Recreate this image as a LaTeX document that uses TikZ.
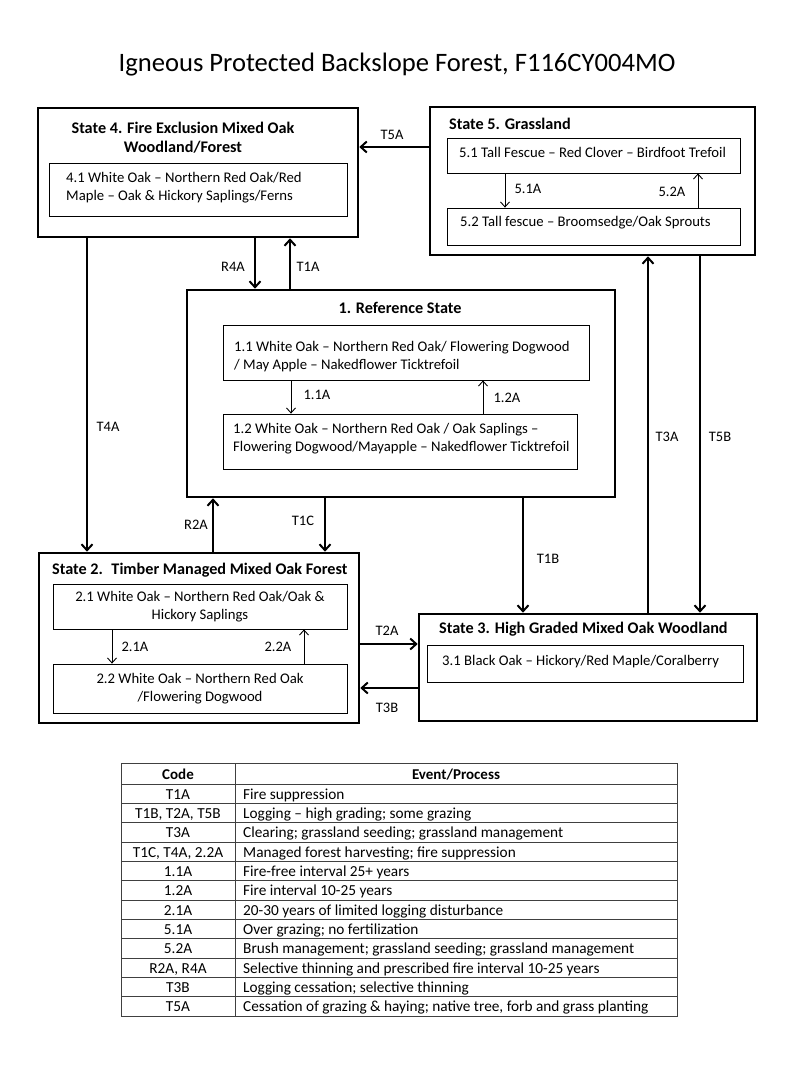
\documentclass[tikz,border=0pt]{standalone}
\usepackage{fontspec}
\setmainfont{Carlito}
\usetikzlibrary{arrows.meta}

\begin{document}
\begin{tikzpicture}[x=1pt, y=-1pt,
   state/.style={draw, line width=2.6pt, rectangle, inner sep=0pt},
   phase/.style={draw, line width=0.8pt, rectangle, inner sep=0pt},
   txt/.style={align=left, inner sep=0pt, font=\fontsize{14.7}{18}\selectfont},
   head/.style={inner sep=0pt, font=\bfseries\fontsize{16.2}{19}\selectfont},
   lbl/.style={inner sep=0pt, font=\fontsize{14.5}{16}\selectfont},
   cell/.style={inner sep=0pt, text height=12pt, text depth=2pt, font=\fontsize{15.3}{17}\selectfont},
   grid line/.style={line width=0.9pt, black!75},
   arr/.style={-{Straight Barb[length=6pt,width=11pt]}, line width=2pt},
   small arr/.style={-{Straight Barb[length=5pt,width=9pt]}, line width=0.9pt}]

\useasboundingbox (0,0) rectangle (800,1067);

\node[font=\fontsize{26.6}{30}\selectfont] (title) at (397,65) {Igneous Protected Backslope Forest, F116CY004MO};

% states
\node[state, minimum width=320pt, minimum height=129pt] (s4) at (198,172.5) {};
\node[state, minimum width=325pt, minimum height=148pt] (s5) at (592.5,181) {};
\node[state, minimum width=428pt, minimum height=207pt] (s1) at (401,393.5) {};
\node[state, minimum width=320pt, minimum height=170pt] (s2) at (199,638) {};
\node[state, minimum width=338pt, minimum height=107pt] (s3) at (588,667.5) {};

\node[head, align=center] (h4) at (183,137.5) {State 4. Fire Exclusion Mixed Oak\\Woodland/Forest};
\node[head, anchor=west] (h5) at (449,124) {State 5. Grassland};
\node[head] (h1) at (400,308) {1. Reference State};
\node[head, anchor=west] (h2) at (52,570) {State 2.~ Timber Managed Mixed Oak Forest};
\node[head, anchor=west] (h3) at (439,629) {State 3. High Graded Mixed Oak Woodland};

% phases
\node[phase, minimum width=298pt, minimum height=53pt] (p41) at (198,189.5) {};
\node[txt, anchor=west] (t41) at (66,187.5) {4.1 White Oak – Northern Red Oak/Red\\Maple – Oak \& Hickory Saplings/Ferns};
\node[phase, minimum width=293pt, minimum height=35pt] (p51) at (593.5,155.5) {};
\node[txt, anchor=west] (t51) at (459,152) {5.1 Tall Fescue – Red Clover – Birdfoot Trefoil};
\node[phase, minimum width=293pt, minimum height=37pt] (p52) at (593.5,226.5) {};
\node[txt, anchor=west] (t52) at (460,223) {5.2 Tall fescue – Broomsedge/Oak Sprouts};
\node[phase, minimum width=366pt, minimum height=55pt] (p11) at (406,352.5) {};
\node[txt, anchor=west] (t11) at (234,357) {1.1 White Oak – Northern Red Oak/ Flowering Dogwood\\/ May Apple – Nakedflower Ticktrefoil};
\node[phase, minimum width=354pt, minimum height=55pt] (p12) at (400,441.5) {};
\node[txt, anchor=west] (t12) at (233,439) {1.2 White Oak – Northern Red Oak / Oak Saplings –\\Flowering Dogwood/Mayapple – Nakedflower Ticktrefoil};
\node[phase, minimum width=294pt, minimum height=45pt, txt, align=center] (p21) at (200,606.5) {2.1 White Oak – Northern Red Oak/Oak \&\\Hickory Saplings};
\node[phase, minimum width=294pt, minimum height=49pt, txt, align=center] (p22) at (200,688.5) {2.2 White Oak – Northern Red Oak\\/Flowering Dogwood};
\node[phase, minimum width=316pt, minimum height=37pt] (p31) at (585,663.5) {};
\node[txt, anchor=west] (t31) at (442,662) {3.1 Black Oak – Hickory/Red Maple/Coralberry};

% transitions
\draw[arr] (s5.west |- 0,147) -- (s4.east |- 0,147);
\draw[arr] (s4.south -| 255,0) -- (s1.north -| 255,0);
\draw[arr] (s1.north -| 290,0) -- (s4.south -| 290,0);
\draw[arr] (s3.north -| 648,0) -- (s5.south -| 648,0);
\draw[arr] (s5.south -| 700,0) -- (s3.north -| 700,0);
\draw[arr] (s2.north -| 213,0) -- (s1.south -| 213,0);
\draw[arr] (s1.south -| 325,0) -- (s2.north -| 325,0);
\draw[arr] (s1.south -| 523,0) -- (s3.north -| 523,0);
\draw[arr] (s4.south -| 87,0) -- (s2.north -| 87,0);
\draw[arr] (s2.east |- 0,644) -- (s3.west |- 0,644);
\draw[arr] (s3.west |- 0,688) -- (s2.east |- 0,688);

\draw[small arr] (p51.south -| 505,0) -- (p52.north -| 505,0);
\draw[small arr] (p52.north -| 698,0) -- (p51.south -| 698,0);
\draw[small arr] (p11.south -| 291,0) -- (p12.north -| 291,0);
\draw[small arr] (p12.north -| 483,0) -- (p11.south -| 483,0);
\draw[small arr] (p21.south -| 112,0) -- (p22.north -| 112,0);
\draw[small arr] (p22.north -| 304,0) -- (p21.south -| 304,0);

\node[lbl] (T5A) at (392,135) {T5A};
\node[lbl] (R4A) at (233,267) {R4A};
\node[lbl] (T1A) at (308,267) {T1A};
\node[lbl] (T3A) at (667,437) {T3A};
\node[lbl] (T5B) at (720,437) {T5B};
\node[lbl] (R2A) at (196,525) {R2A};
\node[lbl] (T1C) at (303,521) {T1C};
\node[lbl] (T1B) at (548,559) {T1B};
\node[lbl] (T4A) at (108,427) {T4A};
\node[lbl] (T2A) at (387,631) {T2A};
\node[lbl] (T3B) at (387,708) {T3B};
\node[lbl] (l51A) at (528,189) {5.1A};
\node[lbl] (l52A) at (672,192) {5.2A};
\node[lbl] (l11A) at (317,395) {1.1A};
\node[lbl] (l12A) at (507,398) {1.2A};
\node[lbl] (l21A) at (135,647) {2.1A};
\node[lbl] (l22A) at (278,647) {2.2A};

% legend table
\draw[grid line] (121,763) rectangle (677,1016);
\draw[grid line] (235,763) -- (235,1016);
\foreach \r in {0,...,11}
  \draw[grid line] (121,784+\r*19.33) -- (677,784+\r*19.33);
\node[cell, font=\bfseries\fontsize{15}{17}\selectfont] (code) at (178,774) {Code};
\node[cell, font=\bfseries\fontsize{15}{17}\selectfont] (event) at (456,774) {Event/Process};
\foreach \c/\e [count=\i] in {
  {T1A}/{Fire suppression},
  {T1B, T2A, T5B}/{Logging – high grading; some grazing},
  {T3A}/{Clearing; grassland seeding;\ grassland management},
  {T1C, T4A, 2.2A}/{Managed forest harvesting; fire suppression},
  {1.1A}/{Fire-free interval 25+ years},
  {1.2A}/{Fire interval 10-25 years},
  {2.1A}/{20-30 years of limited logging disturbance},
  {5.1A}/{Over grazing; no fertilization},
  {5.2A}/{Brush management;\ grassland seeding;\ grassland management},
  {R2A, R4A}/{Selective thinning and prescribed fire interval 10-25 years},
  {T3B}/{Logging cessation; selective thinning},
  {T5A}/{Cessation of grazing \& haying; native tree,\ forb and grass planting}}
{
  \node[cell] (c\i) at (178,774.8+\i*19.33) {\c};
  \node[cell, anchor=west] (e\i) at (243,774.8+\i*19.33) {\e};
}

\end{tikzpicture}
\end{document}
